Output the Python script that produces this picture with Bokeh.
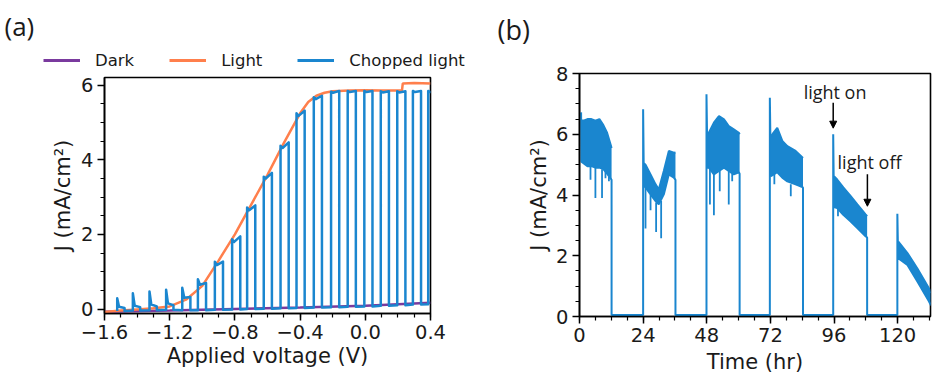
import numpy as np
from bokeh.plotting import figure
from bokeh.layouts import row, column
from bokeh.models import FixedTicker, Legend, LegendItem, Label, Arrow, NormalHead
from bokeh.embed import file_html
from bokeh.resources import INLINE

# ---------------- panel (a) data ----------------
dark_v = [-1.6, -1.2, -0.8, -0.4, 0.0, 0.4]
dark_j = [-0.07, -0.04, 0.0, 0.04, 0.09, 0.17]

light_v = [-1.6, -1.5, -1.4, -1.3, -1.2, -1.1, -1.0, -0.9, -0.8, -0.7, -0.6, -0.5,
           -0.4, -0.35, -0.3, -0.25, -0.2, -0.1, 0.0, 0.1, 0.2, 0.225, 0.23, 0.3, 0.4]
light_j = [-0.08, -0.04, -0.01, 0.02, 0.07, 0.25, 0.62, 1.3, 2.0, 2.8, 3.6, 4.45,
           5.25, 5.55, 5.72, 5.8, 5.84, 5.86, 5.87, 5.86, 5.86, 5.86, 6.05, 6.06, 6.05]

chop_on = [-1.522, -1.426, -1.324, -1.222, -1.123, -1.027, -0.923, -0.817, -0.725, -0.623,
           -0.520, -0.422, -0.316, -0.210, -0.108, -0.006, 0.095, 0.196, 0.292, 0.386]
chop_off = [-1.477, -1.381, -1.279, -1.177, -1.073, -0.977, -0.873, -0.767, -0.675, -0.573,
            -0.470, -0.372, -0.266, -0.160, -0.058, 0.044, 0.145, 0.246, 0.342, 0.436]
chop_spike = [0.29, 0.42, 0.47, 0.52, 0.57, 0.80, 1.27, 1.87, 2.72, 3.55,
              4.38, 5.25, 5.68, 5.83, 5.85, 5.85, 5.84, 5.84, 5.85, 5.85]
chop_dip = [0.06, 0.09, 0.12, 0.15, 0.30, 0.65, 1.18, 1.80, 2.65, 3.50,
            4.32, 5.18, 5.63, 5.80, 5.82, 5.82, 5.81, 5.81, 5.82, 5.82]
chop_end = [0.03, 0.05, 0.07, 0.10, 0.32, 0.70, 1.27, 1.95, 2.78, 3.65,
            4.47, 5.32, 5.72, 5.85, 5.85, 5.85, 5.84, 5.84, 5.85, 5.85]
chop_base = [-0.05, -0.04, -0.03, -0.02, -0.03, -0.03, -0.02, -0.01, 0.0, 0.01,
             0.02, 0.03, 0.04, 0.05, 0.06, 0.07, 0.09, 0.10, 0.12, 0.13]

volt_ticks = [-1.6, -1.2, -0.8, -0.4, 0.0, 0.4]
volt_tick_labels = ["\u22121.6", "\u22121.2", "\u22120.8", "\u22120.4", "0.0", "0.4"]
ja_ticks = [0, 2, 4, 6]
ja_tick_labels = ["0", "2", "4", "6"]
legend_labels = ["Dark", "Light", "Chopped light"]

# ---------------- panel (b) data ----------------
dark_level = 0.05
on_t = [0.6, 24.0, 47.9, 71.8, 95.7, 119.9]
off_t = [12.1, 36.2, 60.4, 84.3, 108.5]
spike_j = [6.72, 6.82, 7.32, 7.20, 6.00, 3.38]

band_t = [
    [0.7, 1.5, 3.0, 4.5, 6.0, 7.5, 9.0, 10.4, 11.7, 12.1],
    [24.3, 24.9, 26.8, 28.7, 29.9, 31.8, 33.7, 35.6, 36.2],
    [48.3, 48.8, 50.7, 52.6, 54.5, 56.3, 58.2, 60.1, 60.4],
    [72.2, 74.6, 76.5, 78.4, 81.5, 84.3],
    [96.0, 97.2, 99.5, 102.3, 104.8, 107.9, 108.5],
    [120.2, 123.7, 127.4, 131.8, 132.6],
]
band_hi = [
    [6.45, 6.45, 6.5, 6.5, 6.45, 6.5, 6.3, 6.05, 5.67, 5.55],
    [5.05, 5.0, 4.68, 4.35, 4.18, 4.79, 5.45, 5.39, 5.4],
    [6.05, 6.05, 6.38, 6.6, 6.49, 6.27, 6.16, 6.05, 6.0],
    [5.94, 6.21, 5.78, 5.61, 5.45, 5.22],
    [4.62, 4.51, 4.25, 3.96, 3.69, 3.36, 3.3],
    [2.47, 2.09, 1.59, 0.93, 0.78],
]
band_lo = [
    [5.1, 5.05, 4.95, 4.95, 4.9, 4.9, 4.85, 4.7, 4.55, 4.5],
    [4.3, 4.25, 4.02, 3.8, 3.69, 4.02, 4.68, 4.57, 4.5],
    [4.9, 4.9, 4.68, 4.79, 4.9, 4.79, 4.68, 4.75, 4.7],
    [4.62, 4.75, 4.57, 4.45, 4.35, 4.25],
    [3.6, 3.57, 3.35, 3.13, 2.91, 2.64, 2.6],
    [1.92, 1.7, 1.16, 0.5, 0.36],
]
dip_t = [4.15, 6.0, 8.5, 9.8, 11.1, 24.9, 26.8, 28.9, 30.8,
         49.2, 50.7, 52.9, 56.3, 57.6, 73.5, 79.7, 97.5]
dip_top = [4.95, 4.9, 4.85, 4.8, 4.6, 4.25, 4.02, 3.75, 3.8,
           4.9, 4.68, 4.79, 4.79, 4.7, 4.7, 4.35, 3.55]
dip_bot = [4.5, 3.9, 3.9, 4.55, 4.45, 2.9, 3.5, 2.78, 2.58,
           3.69, 3.33, 4.12, 3.69, 4.45, 4.35, 3.96, 3.3]

time_ticks = [0, 24, 48, 72, 96, 120]
time_tick_labels = ["0", "24", "48", "72", "96", "120"]
jb_ticks = [0, 2, 4, 6, 8]
jb_tick_labels = ["0", "2", "4", "6", "8"]

ann_text = ["light on", "light off"]
ann_x = [96.4, 109.4]
ann_y = [7.4, 5.1]
arrow_x = [95.7, 108.6]
arrow_y0 = [7.04, 4.68]
arrow_y1 = [6.2, 3.63]

# ---------------- styling ----------------
BLUE = "#1a86cf"
ORANGE = "#ff7f4c"
PURPLE = "#7a3a9e"
TICK_FONT = "DejaVu Sans"
TEXT_DARK = "#1a1a1a"


def style_axes(p, xt, xl, xminor, yt, yl, yminor):
    p.xaxis.ticker = FixedTicker(ticks=xt, minor_ticks=xminor)
    p.yaxis.ticker = FixedTicker(ticks=yt, minor_ticks=yminor)
    p.xaxis.major_label_overrides = {t: l for t, l in zip(xt, xl)}
    p.yaxis.major_label_overrides = {t: l for t, l in zip(yt, yl)}
    for ax in (p.xaxis[0], p.yaxis[0]):
        ax.axis_line_color = "black"
        ax.axis_line_width = 1.6
        ax.major_tick_line_color = "black"
        ax.major_tick_line_width = 1.5
        ax.minor_tick_line_color = "black"
        ax.minor_tick_line_width = 1.2
        ax.major_tick_out = 7
        ax.major_tick_in = 0
        ax.minor_tick_out = 4
        ax.minor_tick_in = 0
        ax.major_label_text_font = TICK_FONT
        ax.major_label_text_font_size = "19.5px"
        ax.major_label_text_color = TEXT_DARK
        ax.axis_label_text_font = TICK_FONT
        ax.axis_label_text_font_size = "21px"
        ax.axis_label_text_font_style = "normal"
        ax.axis_label_text_color = TEXT_DARK
    p.xaxis.major_label_standoff = 4
    p.yaxis.major_label_standoff = 4
    p.xgrid.visible = False
    p.ygrid.visible = False
    p.outline_line_color = "black"
    p.outline_line_width = 1.6
    p.outline_line_alpha = 1.0
    p.background_fill_color = "white"
    p.border_fill_color = "white"


def header(width, height):
    # the ranges keep the legend-swatch renderers out of view
    h = figure(width=width, height=height, x_range=(10, 11), y_range=(10, 11),
               x_axis_type=None, y_axis_type=None, output_backend="svg",
               toolbar_location=None, min_border=0, outline_line_color=None)
    h.xgrid.visible = False
    h.ygrid.visible = False
    h.background_fill_color = "white"
    h.border_fill_color = "white"
    return h


# ---------------- panel (a) ----------------
head_a = header(478, 70)
pa = figure(width=478, height=318, x_range=(-1.6, 0.4), y_range=(-0.12, 6.21),
            output_backend="svg", toolbar_location=None,
            min_border_left=104, min_border_right=48, min_border_top=7, min_border_bottom=75)

cv, cj = [], []
for k in range(len(chop_on)):
    on, off = chop_on[k], chop_off[k]
    cv += [on, on, on + 0.25 * (off - on), off, off]
    cj += [chop_base[k], chop_spike[k], chop_dip[k], chop_end[k], chop_base[k]]

pa.line(dark_v, dark_j, line_color=PURPLE, line_width=2.5)
pa.line(light_v, light_j, line_color=ORANGE, line_width=2.5)
pa.line(cv, cj, line_color=BLUE, line_width=2.5, line_join="round")

style_axes(pa, volt_ticks, volt_tick_labels,
           [float(v) for v in np.round(np.arange(-1.6, 0.41, 0.1), 2)],
           ja_ticks, ja_tick_labels,
           [float(v) for v in np.arange(0, 6.01, 0.5)])
pa.xaxis.axis_label = "Applied voltage (V)"
pa.yaxis.axis_label = "J (mA/cm\u00b2)"
pa.xaxis.axis_label_standoff = 2
pa.yaxis.axis_label_standoff = 3

# legend swatches: same series, drawn in the header where they fall outside its view
sw = [head_a.line(dark_v, dark_j, line_color=PURPLE, line_width=3),
      head_a.line(light_v, light_j, line_color=ORANGE, line_width=3),
      head_a.line(cv, cj, line_color=BLUE, line_width=3)]
legend = Legend(items=[LegendItem(label=legend_labels[i], renderers=[sw[i]]) for i in range(3)],
                orientation="horizontal", location=(43, 0))
legend.background_fill_alpha = 0
legend.border_line_alpha = 0
legend.padding = 0
legend.margin = 0
legend.spacing = 35
legend.label_standoff = 15
legend.glyph_width = 37
legend.glyph_height = 20
legend.label_height = 20
legend.label_text_font = TICK_FONT
legend.label_text_font_size = "16.5px"
legend.label_text_color = TEXT_DARK
head_a.add_layout(legend)
head_a.add_layout(Label(x=4, y=45, x_units="screen", y_units="screen", text="(a)",
                        text_font="Open Sans", text_font_size="26px", text_baseline="middle",
                        text_color=TEXT_DARK))

# ---------------- panel (b) ----------------
head_b = header(466, 61)
head_b.add_layout(Label(x=19, y=32, x_units="screen", y_units="screen", text="(b)",
                        text_font="Open Sans", text_font_size="27px", text_baseline="middle",
                        text_color=TEXT_DARK))

pb = figure(width=466, height=327, x_range=(0, 132.4), y_range=(0, 8),
            output_backend="svg", toolbar_location=None,
            min_border_left=101, min_border_right=14, min_border_top=12, min_border_bottom=72)

tl, jl = [], []
for k in range(len(on_t)):
    if k > 0:
        tl += [on_t[k]]
        jl += [dark_level]
    tl += [on_t[k]]
    jl += [spike_j[k]]
    tl += band_t[k]
    jl += band_lo[k]
    if k < len(off_t):
        tl += [off_t[k], off_t[k]]
        jl += [band_lo[k][-1], dark_level]

pb.line(tl, jl, line_color=BLUE, line_width=2.0)
for k in range(len(on_t)):
    pb.varea(x=band_t[k], y1=band_lo[k], y2=band_hi[k], fill_color=BLUE)
    pb.line(band_t[k], band_hi[k], line_color=BLUE, line_width=2.0)
pb.segment(x0=dip_t, y0=dip_top, x1=dip_t, y1=dip_bot, line_color=BLUE, line_width=1.8)

style_axes(pb, time_ticks, time_tick_labels, [float(v) for v in np.arange(0, 133, 6)],
           jb_ticks, jb_tick_labels, [float(v) for v in np.arange(0, 8.01, 0.5)])
pb.xaxis.axis_label = "Time (hr)"
pb.yaxis.axis_label = "J (mA/cm\u00b2)"
pb.xaxis.axis_label_standoff = 5
pb.yaxis.axis_label_standoff = 2

for i in range(len(ann_text)):
    pb.add_layout(Label(x=ann_x[i], y=ann_y[i], text=ann_text[i], text_font="Open Sans",
                        text_font_size="18px", text_align="center", text_baseline="middle",
                        text_color=TEXT_DARK))
    pb.add_layout(Arrow(x_start=arrow_x[i], y_start=arrow_y0[i], x_end=arrow_x[i],
                        y_end=arrow_y1[i], line_color="black", line_width=1.5,
                        end=NormalHead(size=7, fill_color="black", line_color="black")))

left = column(row(head_a, spacing=0), pa, spacing=0)
right = column(row(head_b, spacing=0), pb, spacing=0)
layout = row(left, right, spacing=0)
open("out.html", "w").write(file_html(layout, INLINE))
